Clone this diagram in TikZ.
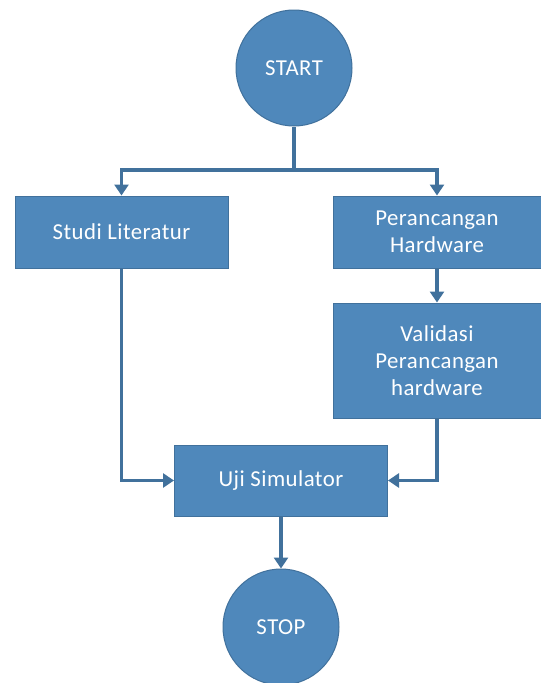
\documentclass[tikz,border=0pt]{standalone}
\usepackage{fontspec}
\setmainfont{Carlito}[LetterSpace=2]
\usetikzlibrary{arrows.meta}
\definecolor{boxfill}{HTML}{4F88BB}
\definecolor{boxedge}{HTML}{41719C}
\definecolor{linkcol}{HTML}{41719C}
\begin{document}
\begin{tikzpicture}[x=1pt,y=-1pt,
  every node/.style={text=white,font=\fontsize{22.8}{27}\selectfont,align=center,inner sep=0pt},
  procbox/.style={draw=boxedge,fill=boxfill,line width=1pt,rectangle},
  termcirc/.style={draw=boxedge,fill=boxfill,line width=1pt,circle,minimum size=116pt},
  link/.style={draw=linkcol,line width=3.2pt},
  flow/.style={link,-{Triangle[length=11pt,width=14pt]}}]
\useasboundingbox (0,0) rectangle (541,683);
\node[termcirc] (start) at (294,68) {START};
\node[procbox,minimum width=213pt,minimum height=72pt] (studi) at (121.5,232) {Studi Literatur};
\node[procbox,minimum width=208pt,minimum height=72pt] (peran) at (437,232) {Perancangan\\Hardware};
\node[procbox,minimum width=208pt,minimum height=115pt] (valid) at (437,360.5) {Validasi\\Perancangan\\hardware};
\node[procbox,minimum width=213pt,minimum height=71pt] (uji) at (281,480.5) {Uji Simulator};
\node[termcirc] (stop) at (281,627) {STOP};
\coordinate (split) at (294,170);
\draw[link] (start) -- (split);
\draw[flow] (split) -| (studi.north);
\draw[flow] (split) -| (peran.north);
\draw[flow] (peran) -- (valid);
\draw[flow] (studi.south) |- (uji.west);
\draw[flow] (valid.south) |- (uji.east);
\draw[flow] (uji) -- (stop);
\end{tikzpicture}
\end{document}
